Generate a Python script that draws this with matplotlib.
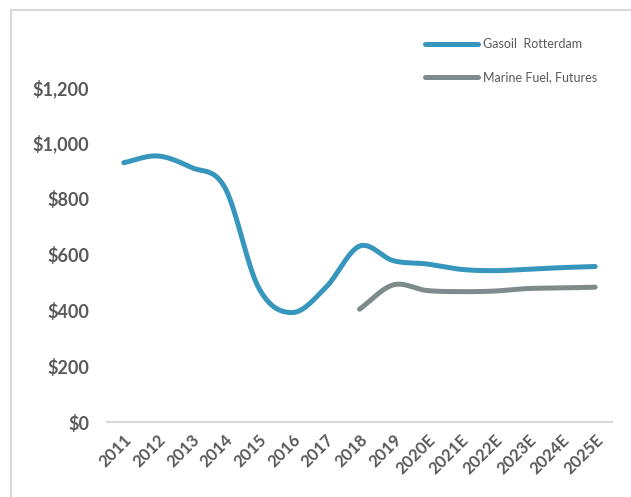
import numpy as np
import matplotlib.pyplot as plt
from matplotlib.lines import Line2D
from matplotlib.ticker import FuncFormatter

# --- Data ---
YEARS = ["2011", "2012", "2013", "2014", "2015", "2016", "2017", "2018",
         "2019", "2020E", "2021E", "2022E", "2023E", "2024E", "2025E"]
GASOIL = [929, 953, 912, 840, 482, 392, 482, 630,
          578, 566, 547, 542, 547, 553, 557]
MARINE_YEARS = YEARS[7:]
MARINE = [404, 491, 471, 467, 469, 478, 480, 483]

BLUE = "#3796BE"
GREY = "#7D8B8C"
TEXT = "#595959"
BORDER = "#D9D9D9"

plt.rcParams["font.family"] = ["Lato", "DejaVu Sans"]


def smooth(x, y, n=30):
    """Courbe lissee type Excel (Catmull-Rom)"""
    x = np.asarray(x, float)
    y = np.asarray(y, float)
    px = np.concatenate([[2 * x[0] - x[1]], x, [2 * x[-1] - x[-2]]])
    py = np.concatenate([[2 * y[0] - y[1]], y, [2 * y[-1] - y[-2]]])
    xs, ys = [], []
    t = np.linspace(0, 1, n)
    for i in range(1, len(px) - 2):
        for p, out in ((px, xs), (py, ys)):
            p0, p1, p2, p3 = p[i - 1], p[i], p[i + 1], p[i + 2]
            c = 0.5 * ((2 * p1) + (-p0 + p2) * t
                       + (2 * p0 - 5 * p1 + 4 * p2 - p3) * t ** 2
                       + (-p0 + 3 * p1 - 3 * p2 + p3) * t ** 3)
            out.extend(c)
    return np.array(xs), np.array(ys)


fig = plt.figure(figsize=(6.31, 4.97), dpi=100)
ax = fig.add_axes([107 / 631, 75 / 497, 505 / 631, 335 / 497])

x_g = np.arange(len(YEARS))
x_m = np.arange(len(YEARS) - len(MARINE), len(YEARS))

sx, sy = smooth(x_g, GASOIL)
ax.plot(sx, sy, color=BLUE, lw=3.6, solid_capstyle="round", clip_on=False,
        label="Gasoil  Rotterdam")
sx, sy = smooth(x_m, MARINE)
ax.plot(sx, sy, color=GREY, lw=3.6, solid_capstyle="round", clip_on=False,
        label="Marine Fuel, Futures")

ax.set_xlim(-0.5, len(YEARS) - 0.5)
ax.set_ylim(0, 1200)
ax.set_yticks(range(0, 1201, 200))
ax.yaxis.set_major_formatter(FuncFormatter(lambda v, p: f"${v:,.0f}"))
ax.set_xticks(x_g)
ax.set_xticklabels(YEARS, rotation=45, ha="right", va="top",
                   rotation_mode="anchor", fontsize=12, fontweight="bold",
                   color=TEXT)
for lbl in ax.get_yticklabels():
    lbl.set_fontsize(13)
    lbl.set_fontweight("bold")
    lbl.set_color(TEXT)
ax.tick_params(axis="both", length=0)
ax.tick_params(axis="y", pad=13)
ax.tick_params(axis="x", pad=7)

for side in ("left", "right", "top"):
    ax.spines[side].set_visible(False)
ax.spines["bottom"].set_color(BORDER)
ax.spines["bottom"].set_linewidth(1.5)

# Legende
leg = fig.legend(loc="upper left", bbox_to_anchor=(414 / 631, 1 - 27 / 497),
                 frameon=False, fontsize=9, handlelength=4.2,
                 handletextpad=0.45, labelspacing=1.7)
for t in leg.get_texts():
    t.set_color(TEXT)

# Bordure du graphique
fig.add_artist(Line2D([11 / 631, 11 / 631], [0, 1 - 10 / 497],
                      color=BORDER, lw=1.5, transform=fig.transFigure))
fig.add_artist(Line2D([11 / 631, 1], [1 - 10 / 497, 1 - 10 / 497],
                      color=BORDER, lw=1.5, transform=fig.transFigure))

fig.savefig("out.png", dpi=100)
